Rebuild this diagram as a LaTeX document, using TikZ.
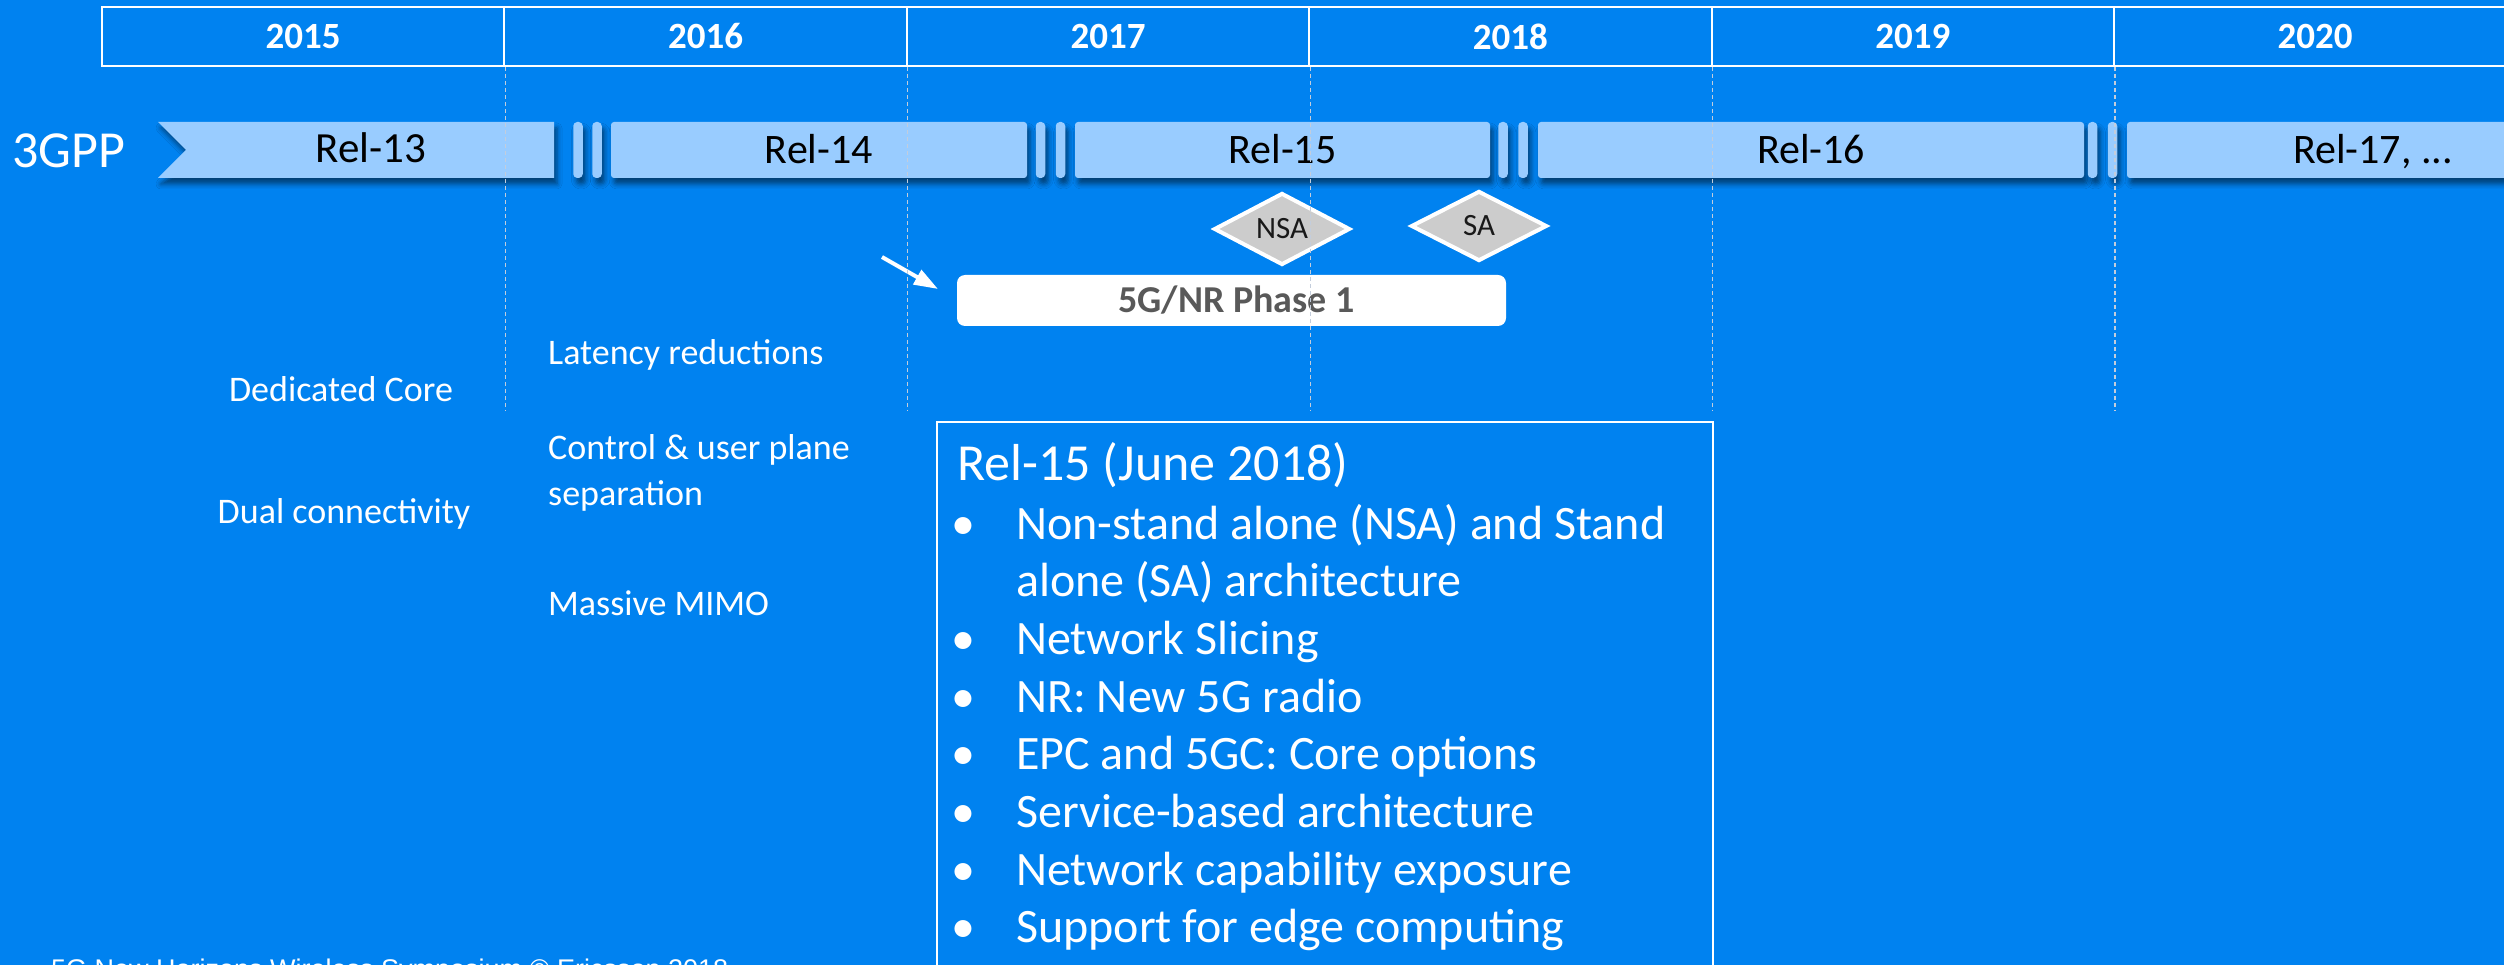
\documentclass[tikz,border=0pt]{standalone}
\usepackage{fontspec}
\setmainfont{Carlito}
\newfontfamily\footfont{Liberation Sans}
\usetikzlibrary{shapes.geometric,arrows.meta,shadows.blur}
\definecolor{bgblue}{RGB}{0,130,240}
\definecolor{barblue}{RGB}{153,204,255}
\definecolor{dgray}{RGB}{89,89,89}
\definecolor{gridc}{RGB}{195,205,220}
\definecolor{diac}{RGB}{204,204,204}
\newcommand{\fsz}[1]{\fontsize{#1}{#1}\selectfont}
\tikzset{
  yearcell/.style={draw=white, line width=2pt, minimum width=402.4pt, minimum height=59pt,
    inner sep=0pt, text=white, font=\fsz{37}\bfseries},
  barshadow/.style={blur shadow={shadow xshift=3pt, shadow yshift=-6pt, shadow blur radius=5pt, shadow opacity=50}},
  relbar/.style={fill=barblue, rounded corners=3pt, minimum height=56pt, inner sep=0pt,
    text=black, font=\fsz{42}, text height=27pt, text depth=0pt, barshadow},
  pill/.style={fill=barblue, rounded corners=4pt, minimum height=56pt, minimum width=9.5pt, inner sep=0pt, barshadow},
  diam/.style={diamond, fill=diac, draw=white, line width=4pt, minimum width=136pt, minimum height=70pt,
    inner sep=0pt, font=\fsz{31}, text=black!90, text height=20pt, text depth=0pt},
  lefttxt/.style={text=white, font=\fsz{36}, inner sep=0pt},
  itemtxt/.style={text=white, font=\fsz{48}, inner sep=0pt, anchor=base west},
  gridline/.style={draw=gridc, line width=1.2pt, dash pattern=on 4pt off 3pt},
}
\begin{document}
\begin{tikzpicture}[x=1pt,y=-1pt]
\useasboundingbox (0,0) rectangle (2504,965);
\clip (0,0) rectangle (2504,965);
\fill[bgblue] (0,0) rectangle (2504,965);

% year header
\foreach \yr [count=\i from 0] in {2015,2016,2017,2018,2019,2020}
  \node[yearcell] (y\yr) at ({303.2+402.4*\i},36.5) {\yr};

% 3GPP label
\node[text=white, font=\fsz{52}, inner sep=0pt, anchor=base] (gpp) at (69,168) {3GPP};

% release bars
\path[fill=barblue, barshadow] (158,122) -- (554,122) -- (554,178) -- (158,178) -- (186,150) -- cycle;
\node[text=black, font=\fsz{43}, inner sep=0pt, anchor=base] (r13) at (371,163) {Rel-13};
\node[pill] (p1) at (578,150) {};
\node[pill] (p2) at (597,150) {};
\node[relbar, minimum width=416pt] (r14) at (819,150) {Rel-14};
\node[pill] (p3) at (1040.5,150) {};
\node[pill] (p4) at (1060.5,150) {};
\node[relbar, minimum width=415pt] (r15) at (1282.5,150) {Rel-15};
\node[pill] (p5) at (1503,150) {};
\node[pill] (p6) at (1523,150) {};
\node[relbar, minimum width=546pt] (r16) at (1811,150) {Rel-16};
\node[pill] (p7) at (2092.5,150) {};
\node[pill] (p8) at (2112.5,150) {};
\node[relbar, minimum width=492pt] (r17) at (2373,150) {Rel-17, ...};

% milestones
\node[diam] (nsa) at (1282,229) {NSA};
\node[diam] (sa) at (1479,226) {SA};
\node[fill=white, rounded corners=8pt, minimum width=549pt, minimum height=51pt, inner sep=0pt,
  text=dgray, font=\fsz{38}\bfseries, text height=25pt, text depth=0pt] (phase) at (1231.5,300.5) {\hspace*{10pt}5G/NR Phase 1};
\coordinate (arrS) at (882,257);
\coordinate (arrE) at (938,289);
\draw[white, line width=4pt, -{Triangle[length=24pt,width=16pt]}] (arrS) -- (arrE);

% left texts
\node[lefttxt, anchor=base] (dc) at (341,402) {Dedicated Core};
\node[lefttxt, anchor=base] (dual) at (344,523) {Dual connectivity};
\node[lefttxt, anchor=base west] (lat) at (548,365) {Latency reductions};
\node[lefttxt, anchor=base west] (cup1) at (548,460) {Control \& user plane};
\node[lefttxt, anchor=base west] (cup2) at (548,505) {separation};
\node[lefttxt, anchor=base west] (mimo) at (548,615) {Massive MIMO};

% Rel-15 box
\node[draw=white, line width=2pt, minimum width=776pt, minimum height=600pt, inner sep=0pt, anchor=north west] (relbox) at (936,421) {};
\node[itemtxt, font=\fsz{52}] (rtitle) at (957,480) {Rel-15 (June 2018)};
\foreach \t/\yy [count=\k] in {Non-stand alone (NSA) and Stand/539, Network Slicing/654, NR: New 5G radio/712,
  EPC and 5GC: Core options/769, Service-based architecture/827, Network capability exposure/885, Support for edge computing/942}{
  \node[text=white, font=\fsz{48}, inner sep=0pt, anchor=base] (b\k) at (963,\yy) {•};
  \node[itemtxt] (it\k) at (1016,\yy) {\t};
}
\node[itemtxt] (it1b) at (1016,596) {alone (SA) architecture};

% footer (cut by the page edge)
\node[text=white, font=\footfont\fsz{27}, inner sep=0pt, anchor=base west] (foot) at (51,978) {5G New Horizons Wireless Symposium © Ericsson 2018};

% grid lines
\foreach \yr in {2015,2016,2017,2018,2019}
  \draw[gridline] (y\yr.south east) -- ++(0,344);
\end{tikzpicture}
\end{document}
